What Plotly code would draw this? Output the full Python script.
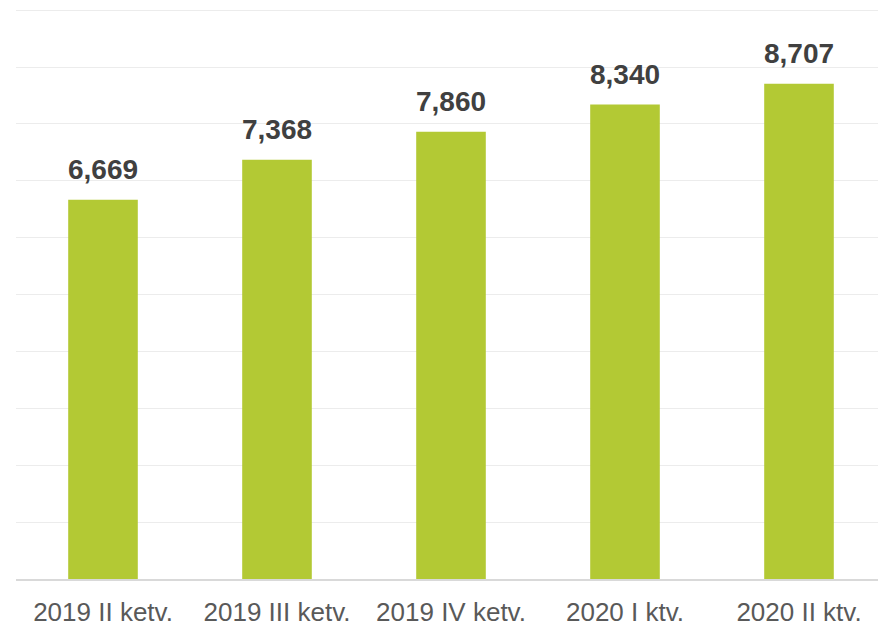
import plotly.graph_objects as go

categories = ["2019 II ketv.", "2019 III ketv.", "2019 IV ketv.", "2020 I ktv.", "2020 II ktv."]
values = [6669, 7368, 7860, 8340, 8707]
value_labels = ["6,669", "7,368", "7,860", "8,340", "8,707"]

bar_color = "#b3c934"
font_family = "Liberation Sans, Arial, sans-serif"

fig = go.Figure()
fig.add_trace(go.Bar(
    x=categories,
    y=values,
    marker=dict(color=bar_color, line=dict(width=0)),
    hoverinfo="skip",
))

for c, v, t in zip(categories, values, value_labels):
    fig.add_annotation(
        x=c, y=v, text=t, showarrow=False,
        yanchor="bottom", yshift=13,
        font=dict(family=font_family, size=28, color="#404040", weight="bold"),
    )

fig.update_layout(
    width=878, height=619,
    margin=dict(l=8, r=0, t=1, b=48, autoexpand=False),
    paper_bgcolor="white",
    plot_bgcolor="white",
    bargap=0.6,
    showlegend=False,
    xaxis=dict(
        showgrid=False,
        showline=True, linecolor="#d9d9d9", linewidth=1.5,
        ticks="",
        tickfont=dict(family=font_family, size=26, color="#595959"),
        ticklabelstandoff=9,
    ),
    yaxis=dict(
        range=[0, 10020],
        tick0=0,
        dtick=1000,
        showgrid=True, gridcolor="#ececec", gridwidth=1,
        showticklabels=False,
        zeroline=False,
        showline=False,
    ),
)

fig.write_html("out.html")
